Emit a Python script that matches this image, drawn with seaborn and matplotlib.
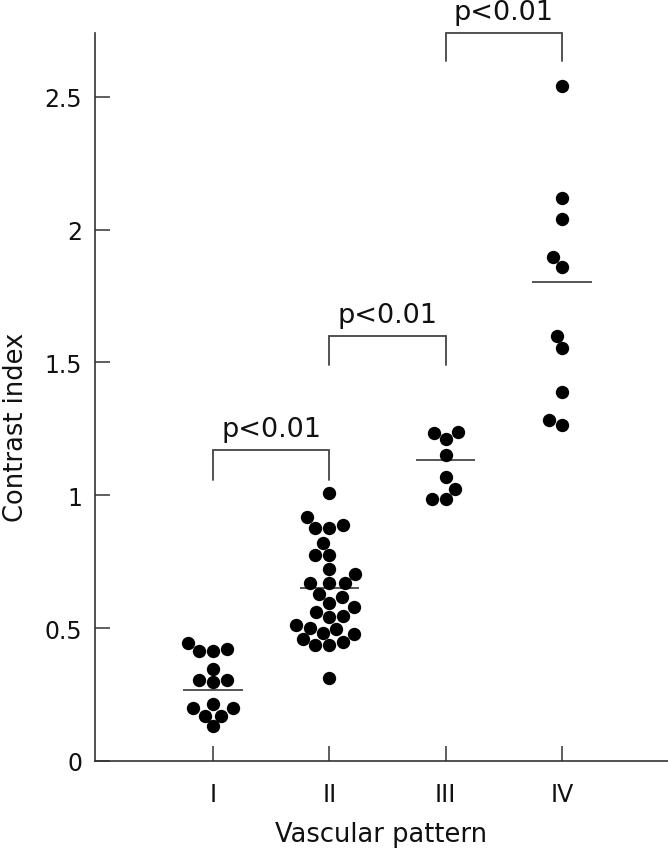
import matplotlib
matplotlib.use("Agg")
import matplotlib.pyplot as plt
import seaborn as sns
import pandas as pd

# ---- data ----
groups = ["I", "II", "III", "IV"]
vals_I = [0.444, 0.421, 0.413, 0.413, 0.348, 0.304, 0.304, 0.296,
          0.214, 0.198, 0.198, 0.170, 0.170, 0.130]
vals_II = [1.008, 0.918, 0.887, 0.878, 0.878, 0.820, 0.776, 0.776, 0.724,
           0.703, 0.668, 0.668, 0.668, 0.630, 0.619, 0.596, 0.578, 0.561,
           0.546, 0.542, 0.512, 0.502, 0.496, 0.481, 0.477, 0.459, 0.448,
           0.437, 0.437, 0.312]
vals_III = [1.238, 1.236, 1.211, 1.150, 1.070, 1.023, 0.985, 0.985]
vals_IV = [2.541, 2.117, 2.040, 1.897, 1.860, 1.600, 1.553, 1.388,
           1.283, 1.263]
mean_values = [0.266, 0.650, 1.132, 1.802]

bracket_pairs = [(0, 1), (1, 2), (2, 3)]
bracket_tops = [1.170, 1.599, 2.739]
bracket_bottoms = [1.056, 1.490, 2.633]
bracket_labels = ["p<0.01", "p<0.01", "p<0.01"]

ytick_values = [0, 0.5, 1, 1.5, 2, 2.5]
ytick_labels = ["0", "0.5", "1", "1.5", "2", "2.5"]

# ---- build table ----
rows = []
for g, vals in zip(groups, [vals_I, vals_II, vals_III, vals_IV]):
    for v in vals:
        rows.append({"Vascular pattern": g, "Contrast index": v})
df = pd.DataFrame(rows)

sns.set_style("white")
plt.rcParams["font.family"] = ["DejaVu Sans"]

fig = plt.figure(figsize=(6.68, 8.53), dpi=100)
ax = fig.add_axes([0.142, 0.1067, 0.858, 0.8535])

sns.swarmplot(data=df, x="Vascular pattern", y="Contrast index",
              order=groups, color="black", size=9.6, ax=ax,
              edgecolor="black", linewidth=0, warn_thresh=1.0)

# mean lines
for i, m in enumerate(mean_values):
    ax.hlines(m, i - 0.255, i + 0.255, color="#555555", linewidth=1.4, zorder=1)

# significance brackets
line_col = "#444444"
for (a, b), top, bot, lab in zip(bracket_pairs, bracket_tops, bracket_bottoms, bracket_labels):
    ax.plot([a, a, b, b], [bot, top, top, bot], color=line_col, lw=1.3,
            clip_on=False, solid_joinstyle="miter")
    ax.text((a + b) / 2, top + 0.052, lab, ha="center", va="baseline",
            fontsize=19.5, color="#111111", clip_on=False)

ax.set_xlim(-1.015, 3.91)
ax.set_ylim(0, 2.74)
ax.set_yticks(ytick_values)
ax.set_yticklabels(ytick_labels)

for side in ["top", "right"]:
    ax.spines[side].set_visible(False)
for side in ["left", "bottom"]:
    ax.spines[side].set_color("#333333")
    ax.spines[side].set_linewidth(1.2)

ax.tick_params(axis="both", which="major", bottom=True, left=True,
               direction="in", length=11, width=1.1,
               color="#333333", labelsize=17, labelcolor="#111111")
ax.tick_params(axis="y", pad=9)
ax.tick_params(axis="x", pad=15)

ax.set_xlabel("Vascular pattern", fontsize=18.5, color="#111111")
ax.set_ylabel("Contrast index", fontsize=18.5, color="#111111")
ax.yaxis.set_label_coords(-0.138, 0.46)
ax.yaxis.label.set_va("center")
ax.xaxis.set_label_coords(0.5, -0.10)
ax.xaxis.label.set_va("center")

fig.savefig("out.png", dpi=100)
